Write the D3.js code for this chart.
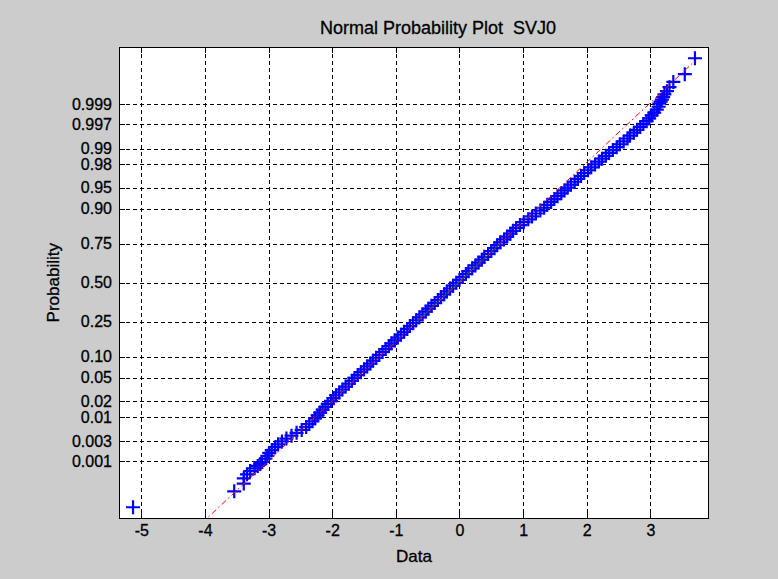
<!DOCTYPE html>
<html><head><meta charset="utf-8">
<script src="https://cdn.jsdelivr.net/npm/d3@7"></script>
<style>
html,body{margin:0;padding:0;background:#cccccc;}
svg{display:block;}
text{font-family:"Liberation Sans",Arial,Helvetica,sans-serif;fill:#000;stroke:#000;stroke-width:0.3px;}
</style></head><body>
<svg id="chart" width="778" height="579"></svg>
<script>
// ---- data ----
const chartTitle = "Normal Probability Plot  SVJ0";
const xLabel = "Data";
const yLabel = "Probability";
const xTicks = [-5,-4,-3,-2,-1,0,1,2,3];
const probTickLabels = ["0.001","0.003","0.01","0.02","0.05","0.10","0.25","0.50","0.75","0.90","0.95","0.98","0.99","0.997","0.999"];
// normal scores (plotting positions) of the sorted sample
const sampleZ = [
 -3.891,-3.615,-3.481,-3.390,-3.320,-3.264,-3.216,-3.175,-3.139,-3.106,
 -3.05,-3.00,-2.95,-2.90,-2.85,-2.80,-2.75,-2.70,-2.65,-2.60,-2.55,-2.50,-2.45,-2.40,-2.35,-2.30,-2.25,-2.20,-2.15,-2.10,-2.05,
 -2.00,-1.95,-1.90,-1.85,-1.80,-1.75,-1.70,-1.65,-1.60,-1.55,-1.50,-1.45,-1.40,-1.35,-1.30,-1.25,-1.20,-1.15,-1.10,-1.05,
 -1.00,-0.95,-0.90,-0.85,-0.80,-0.75,-0.70,-0.65,-0.60,-0.55,-0.50,-0.45,-0.40,-0.35,-0.30,-0.25,-0.20,-0.15,-0.10,-0.05,
 0.00,0.05,0.10,0.15,0.20,0.25,0.30,0.35,0.40,0.45,0.50,0.55,0.60,0.65,0.70,0.75,0.80,0.85,0.90,0.95,
 1.00,1.05,1.10,1.15,1.20,1.25,1.30,1.35,1.40,1.45,1.50,1.55,1.60,1.65,1.70,1.75,1.80,1.85,1.90,1.95,
 2.00,2.05,2.10,2.15,2.20,2.25,2.30,2.35,2.40,2.45,2.50,2.55,2.60,2.65,2.70,2.75,2.80,2.85,2.90,2.95,3.00,3.05,
 3.106,3.139,3.175,3.216,3.264,3.320,3.390,3.481,3.615,3.891
];
// sorted sample values
const sampleX = [
 -5.13,-3.54,-3.39,-3.39,-3.34,-3.29,-3.22,-3.17,-3.13,-3.10,
 -3.05,-3.02,-2.99,-2.95,-2.90,-2.85,-2.79,-2.72,-2.64,-2.56,-2.48,-2.41,-2.36,-2.31,-2.27,-2.23,-2.19,-2.15,-2.11,-2.07,-2.02,
 -1.98,-1.94,-1.89,-1.84,-1.79,-1.74,-1.69,-1.65,-1.60,-1.55,-1.50,-1.45,-1.40,-1.36,-1.31,-1.26,-1.21,-1.16,-1.11,-1.07,
 -1.02,-0.97,-0.92,-0.87,-0.82,-0.78,-0.73,-0.68,-0.63,-0.58,-0.53,-0.49,-0.44,-0.39,-0.34,-0.29,-0.24,-0.20,-0.15,-0.10,
 -0.05,0.00,0.05,0.10,0.14,0.20,0.25,0.30,0.35,0.39,0.45,0.50,0.55,0.59,0.64,0.70,0.75,0.80,0.84,0.89,
 0.95,1.01,1.08,1.14,1.20,1.27,1.33,1.38,1.44,1.49,1.54,1.60,1.65,1.70,1.75,1.81,1.86,1.91,1.96,2.02,
 2.07,2.13,2.19,2.24,2.30,2.35,2.41,2.47,2.52,2.58,2.64,2.68,2.74,2.79,2.84,2.89,2.94,2.98,3.02,3.06,3.10,3.13,
 3.14,3.16,3.18,3.20,3.22,3.26,3.30,3.36,3.54,3.70
];
// sample quartiles used for the reference line
const quartileP = [0.25, 0.75];
const quartileX = [-0.671, 0.634];

// ---- inverse normal CDF (Acklam) ----
function norminv(p){
  const a=[-3.969683028665376e+01,2.209460984245205e+02,-2.759285104469687e+02,1.383577518672690e+02,-3.066479806614716e+01,2.506628277459239e+00];
  const b=[-5.447609879822406e+01,1.615858368580409e+02,-1.556989798598866e+02,6.680131188771972e+01,-1.328068155288572e+01];
  const c=[-7.784894002430293e-03,-3.223964580411365e-01,-2.400758277161838e+00,-2.549732539343734e+00,4.374664141464968e+00,2.938163982698783e+00];
  const d=[7.784695709041462e-03,3.224671290700398e-01,2.445134137142996e+00,3.754408661907416e+00];
  const pl=0.02425, ph=1-pl; let q,r;
  if(p<pl){q=Math.sqrt(-2*Math.log(p));return (((((c[0]*q+c[1])*q+c[2])*q+c[3])*q+c[4])*q+c[5])/((((d[0]*q+d[1])*q+d[2])*q+d[3])*q+1);}
  if(p>ph){q=Math.sqrt(-2*Math.log(1-p));return -(((((c[0]*q+c[1])*q+c[2])*q+c[3])*q+c[4])*q+c[5])/((((d[0]*q+d[1])*q+d[2])*q+d[3])*q+1);}
  q=p-0.5;r=q*q;return (((((a[0]*r+a[1])*r+a[2])*r+a[3])*r+a[4])*r+a[5])*q/(((((b[0]*r+b[1])*r+b[2])*r+b[3])*r+b[4])*r+1);
}

// ---- layout ----
const svg = d3.select("#chart");
const L = 119, T = 47, PW = 590, PH = 471.5;
const xMin = d3.min(sampleX), xMax = d3.max(sampleX), xr = xMax - xMin;
const zMin = d3.min(sampleZ), zMax = d3.max(sampleZ), zr = zMax - zMin;
const x = d3.scaleLinear().domain([xMin - 0.025*xr, xMax + 0.025*xr]).range([0, PW]);
const y = d3.scaleLinear().domain([zMin - 0.025*zr, zMax + 0.025*zr]).range([PH, 0]);
const yTickVals = probTickLabels.map(s => norminv(+s));

svg.append("rect").attr("width",778).attr("height",579).attr("fill","#cccccc");
const g = svg.append("g").attr("transform",`translate(${L},${T})`);
g.append("rect").attr("width",PW).attr("height",PH).attr("fill","#ffffff");

svg.append("defs").append("clipPath").attr("id","clip")
  .append("rect").attr("width",PW).attr("height",PH);

// grid
const grid = g.append("g").attr("stroke","#000").attr("stroke-width",1).attr("stroke-dasharray","4,3").attr("shape-rendering","crispEdges");
grid.selectAll("line.v").data(xTicks).join("line").attr("class","v")
  .attr("x1",d=>Math.round(x(d))+0.5).attr("x2",d=>Math.round(x(d))+0.5).attr("y1",0).attr("y2",PH);
grid.selectAll("line.h").data(yTickVals).join("line").attr("class","h")
  .attr("y1",d=>Math.round(y(d))+0.5).attr("y2",d=>Math.round(y(d))+0.5).attr("x1",0).attr("x2",PW);

// data markers
const plot = g.append("g").attr("clip-path","url(#clip)");
plot.append("g").selectAll("path").data(sampleX.map((v,i)=>[v,sampleZ[i]])).join("path")
  .attr("transform",d=>`translate(${x(d[0])},${y(d[1])})`)
  .attr("d","M-7,0H7M0,-7V7")
  .attr("fill","none").attr("stroke","#0000ff").attr("stroke-width",2.2);

// reference lines
const qz = quartileP.map(norminv);
const slope = (qz[1]-qz[0])/(quartileX[1]-quartileX[0]);
const zAt = v => qz[0] + slope*(v - quartileX[0]);
plot.append("line")
  .attr("x1",x(quartileX[0])).attr("y1",y(qz[0])).attr("x2",x(quartileX[1])).attr("y2",y(qz[1]))
  .attr("stroke","#008000").attr("stroke-width",1);
plot.append("line")
  .attr("x1",x(xMin)).attr("y1",y(zAt(xMin))).attr("x2",x(xMax)).attr("y2",y(zAt(xMax)))
  .attr("stroke","#ff0000").attr("stroke-width",1).attr("stroke-dasharray","6,3,1.5,3");

// axes (inward ticks)
const fs = "16px";
const ax = g.append("g").attr("transform",`translate(0,${PH})`)
  .call(d3.axisBottom(x).tickValues(xTicks).tickSize(-6).tickPadding(6).tickFormat(d=>String(d)));
const axT = g.append("g").call(d3.axisTop(x).tickValues(xTicks).tickSize(-6).tickFormat(""));
const ay = g.append("g")
  .call(d3.axisLeft(y).tickValues(yTickVals).tickSize(-6).tickPadding(7).tickFormat((d,i)=>probTickLabels[i]));
const ayR = g.append("g").attr("transform",`translate(${PW},0)`)
  .call(d3.axisRight(y).tickValues(yTickVals).tickSize(-6).tickFormat(""));
[ax,axT,ay,ayR].forEach(a=>{
  a.select(".domain").remove();
  a.selectAll("line").attr("stroke","#000").attr("shape-rendering","crispEdges");
  a.selectAll("text").attr("font-size",fs).attr("font-family","Liberation Sans, Arial, sans-serif").attr("fill","#000");
});

// border
g.append("rect").attr("x",0.5).attr("y",0.5).attr("width",PW-1).attr("height",PH-1)
  .attr("fill","none").attr("stroke","#000").attr("stroke-width",1).attr("shape-rendering","crispEdges");

// labels
svg.append("text").attr("x",438).attr("y",34).attr("text-anchor","middle").attr("font-size","18px")
  .style("white-space","pre").attr("xml:space","preserve").text(chartTitle);
svg.append("text").attr("x",L+PW/2).attr("y",562).attr("text-anchor","middle").attr("font-size","17px").text(xLabel);
svg.append("text").attr("transform",`translate(59,${T+y(0)}) rotate(-90)`).attr("text-anchor","middle").attr("font-size","17px").text(yLabel);
</script>
</body></html>
